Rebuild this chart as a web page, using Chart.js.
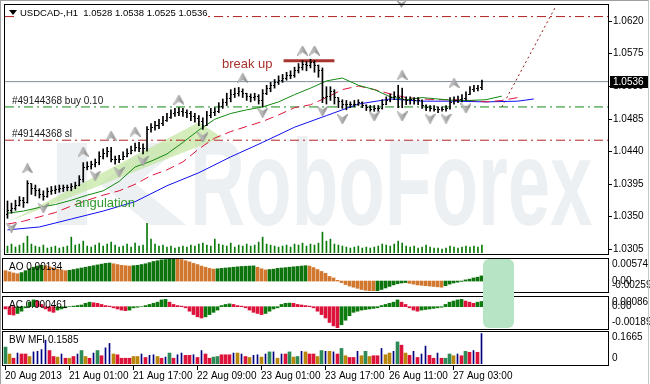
<!DOCTYPE html>
<html>
<head>
<meta charset="utf-8">
<title>USDCAD H1</title>
<script src="https://cdn.jsdelivr.net/npm/chart.js@4.4.1/dist/chart.umd.min.js"></script>
<style>
  html, body { margin: 0; padding: 0; background: #fff; }
  #wrap { position: relative; width: 650px; height: 384px; overflow: hidden; background: #fff; }
  #wrap canvas { position: absolute; left: 0; }
  #frame { position: absolute; left: 0; top: 0; width: 649px; height: 384px; border-left: 1px solid #a0a0a0; border-top: 1px solid #a0a0a0; border-right: 1px solid #c8c8c8; box-sizing: border-box; pointer-events: none; }
  #zone { position: absolute; left: 483px; top: 259px; width: 31px; height: 69px; border-radius: 6px; background: #b7e4c4; }
</style>
</head>
<body>
<div id="wrap">
  <canvas id="main" width="650" height="258" style="top:0"></canvas>
  <canvas id="ao" width="650" height="38" style="top:256px"></canvas>
  <canvas id="ac" width="650" height="38" style="top:293px"></canvas>
  <canvas id="mfi" width="650" height="54" style="top:330px"></canvas>
  <div id="zone"></div>
  <div id="frame"></div>
</div>
<script>
const FONT = '"Liberation Sans", Arial, sans-serif';

// ---- H1 bars, 20 Aug 09:00 .. 27 Aug 04:00 ----
const opens = [1.0352,1.0358,1.0361,1.0365,1.0371,1.0369,1.0395,1.0388,1.0385,1.0380,
  1.0377,1.0384,1.0385,1.0387,1.0388,1.0389,1.0389,1.0391,1.0393,1.0400,
  1.0417,1.0419,1.0421,1.0424,1.0433,1.0437,1.0440,1.0429,1.0428,1.0429,
  1.0433,1.0437,1.0441,1.0445,1.0444,1.0443,1.0470,1.0473,1.0475,1.0478,
  1.0482,1.0486,1.0492,1.0493,1.0495,1.0493,1.0492,1.0488,1.0485,1.0481,
  1.0475,1.0489,1.0493,1.0495,1.0501,1.0507,1.0512,1.0518,1.0520,1.0523,
  1.0519,1.0515,1.0514,1.0515,1.0510,1.0519,1.0526,1.0531,1.0535,1.0538,
  1.0541,1.0544,1.0545,1.0551,1.0555,1.0560,1.0559,1.0563,1.0558,1.0552,
  1.0514,1.0516,1.0522,1.0514,1.0508,1.0505,1.0504,1.0504,1.0505,1.0507,
  1.0503,1.0500,1.0497,1.0499,1.0499,1.0505,1.0510,1.0514,1.0516,1.0514,
  1.0511,1.0510,1.0511,1.0510,1.0510,1.0503,1.0500,1.0499,1.0497,1.0497,
  1.0497,1.0499,1.0507,1.0510,1.0511,1.0512,1.0518,1.0525,1.0527,1.0528];
const highs = [1.0371,1.0368,1.0372,1.0377,1.0376,1.0399,1.0395,1.0393,1.0388,1.0385,
  1.0389,1.0391,1.0392,1.0393,1.0393,1.0393,1.0395,1.0397,1.0406,1.0424,
  1.0425,1.0426,1.0429,1.0439,1.0443,1.0445,1.0445,1.0433,1.0434,1.0439,
  1.0443,1.0447,1.0451,1.0452,1.0450,1.0474,1.0478,1.0481,1.0484,1.0488,
  1.0492,1.0497,1.0499,1.0500,1.0499,1.0497,1.0495,1.0492,1.0489,1.0486,
  1.0495,1.0499,1.0500,1.0507,1.0512,1.0520,1.0525,1.0527,1.0528,1.0526,
  1.0520,1.0519,1.0520,1.0518,1.0525,1.0531,1.0535,1.0539,1.0544,1.0546,
  1.0549,1.0551,1.0556,1.0561,1.0565,1.0564,1.0567,1.0565,1.0559,1.0555,
  1.0529,1.0529,1.0525,1.0514,1.0511,1.0510,1.0508,1.0510,1.0511,1.0508,
  1.0504,1.0503,1.0503,1.0503,1.0511,1.0515,1.0519,1.0522,1.0531,1.0527,
  1.0515,1.0515,1.0514,1.0514,1.0511,1.0504,1.0503,1.0503,1.0501,1.0501,
  1.0503,1.0514,1.0515,1.0516,1.0518,1.0522,1.0529,1.0531,1.0531,1.0538];
const lows = [1.0347,1.0354,1.0358,1.0364,1.0362,1.0368,1.0380,1.0378,1.0375,1.0372,
  1.0376,1.0380,1.0381,1.0383,1.0384,1.0385,1.0385,1.0388,1.0392,1.0397,
  1.0414,1.0415,1.0418,1.0421,1.0429,1.0432,1.0425,1.0422,1.0424,1.0428,
  1.0432,1.0436,1.0440,1.0439,1.0436,1.0440,1.0466,1.0469,1.0471,1.0475,
  1.0481,1.0485,1.0488,1.0489,1.0488,1.0486,1.0482,1.0480,1.0475,1.0470,
  1.0475,1.0486,1.0489,1.0493,1.0499,1.0503,1.0508,1.0514,1.0516,1.0514,
  1.0510,1.0508,1.0510,1.0505,1.0501,1.0518,1.0522,1.0527,1.0532,1.0535,
  1.0538,1.0540,1.0542,1.0548,1.0552,1.0551,1.0555,1.0549,1.0542,1.0507,
  1.0505,1.0510,1.0505,1.0500,1.0499,1.0497,1.0500,1.0501,1.0503,1.0500,
  1.0496,1.0495,1.0495,1.0495,1.0498,1.0504,1.0508,1.0511,1.0500,1.0500,
  1.0504,1.0505,1.0505,1.0504,1.0499,1.0496,1.0495,1.0495,1.0493,1.0495,
  1.0495,1.0498,1.0505,1.0507,1.0508,1.0510,1.0518,1.0522,1.0523,1.0525];
const closes = [1.0358,1.0361,1.0365,1.0371,1.0369,1.0395,1.0388,1.0385,1.0380,1.0377,
  1.0384,1.0385,1.0387,1.0388,1.0389,1.0389,1.0391,1.0393,1.0400,1.0417,
  1.0419,1.0421,1.0424,1.0433,1.0437,1.0440,1.0429,1.0428,1.0429,1.0433,
  1.0437,1.0441,1.0445,1.0444,1.0443,1.0470,1.0473,1.0475,1.0478,1.0482,
  1.0486,1.0492,1.0493,1.0495,1.0493,1.0492,1.0488,1.0485,1.0481,1.0475,
  1.0489,1.0493,1.0495,1.0501,1.0507,1.0512,1.0518,1.0520,1.0523,1.0519,
  1.0515,1.0514,1.0515,1.0510,1.0519,1.0526,1.0531,1.0535,1.0538,1.0541,
  1.0544,1.0545,1.0551,1.0555,1.0560,1.0559,1.0563,1.0558,1.0552,1.0514,
  1.0516,1.0522,1.0514,1.0508,1.0505,1.0504,1.0504,1.0505,1.0507,1.0503,
  1.0500,1.0497,1.0499,1.0499,1.0505,1.0510,1.0514,1.0516,1.0514,1.0511,
  1.0510,1.0511,1.0510,1.0510,1.0503,1.0500,1.0499,1.0497,1.0497,1.0497,
  1.0499,1.0507,1.0510,1.0511,1.0512,1.0518,1.0525,1.0527,1.0527,1.0536];
const volumes = [700,900,600,800,1000,1700,900,700,600,800,
  500,600,700,500,600,700,1600,800,900,1200,
  700,600,800,1000,700,900,1100,800,600,700,
  900,600,1000,700,800,3000,1400,900,700,800,
  600,700,500,600,700,600,800,700,900,1000,
  800,700,1400,900,800,700,1000,600,800,700,
  900,700,800,1100,1600,900,800,700,600,700,
  800,600,900,800,1000,700,900,800,1000,2100,
  1200,1400,900,800,700,600,500,600,700,500,
  600,500,600,700,900,800,700,900,1200,1000,
  700,600,700,500,600,800,600,500,500,400,
  500,700,600,500,600,700,600,700,600,800];

// ---- moving-average lines (shifted forward), sampled ----
const jawBars = [0,8,16,24,32,40,48,56,64,72,80,88,96,104,112,120,128,132];
const jawValues = [1.0331,1.0335,1.0346,1.0357,1.0370,1.0392,1.0410,1.0432,1.0452,1.0473,
  1.0489,1.0505,1.0512,1.0509,1.0509,1.0508,1.0509,1.0512];
const teethBars = [0,4,8,12,16,20,24,28,32,36,40,44,48,52,56,60,64,68,72,76,80,84,88,92,96,100,104,108,112,116,120,124,128];
const teethValues = [1.0339,1.0343,1.0349,1.0355,1.0364,1.0372,1.0379,1.0385,1.0394,1.0406,
  1.0414,1.0425,1.0443,1.0458,1.0467,1.0474,1.0481,1.0490,1.0500,1.0504,
  1.0514,1.0525,1.0530,1.0525,1.0519,1.0514,1.0512,1.0511,1.0511,1.0510,
  1.0508,1.0510,1.0514];
const lipsBars = [0,4,8,12,16,20,24,28,32,36,40,44,48,52,56,60,64,68,72,76,80,84,88,92,96,100,104,108,112,116,120,124];
const lipsValues = [1.0354,1.0357,1.0362,1.0366,1.0372,1.0379,1.0385,1.0398,1.0418,1.0426,
  1.0436,1.0452,1.0469,1.0484,1.0492,1.0497,1.0501,1.0508,1.0518,1.0527,
  1.0537,1.0541,1.0531,1.0525,1.0515,1.0511,1.0514,1.0512,1.0510,1.0510,
  1.0511,1.0516];

// ---- fractals ----
const upFractalBars = [5,19,26,32,43,59,74,77,99,112];
const upFractalPrices = [1.0416,1.0439,1.0461,1.0467,1.0511,1.0541,1.0579,1.0579,1.0545,1.0534];
const downFractalBars = [1,9,22,28,34,49,64,79,84,92,99,106,110,115];
const downFractalPrices = [1.0334,1.0361,1.0406,1.0411,1.0426,1.0459,1.0493,1.0495,1.0484,1.0488,1.0488,1.0485,1.0485,1.0499];

// ---- objects on the chart ----
const takeProfit = 1.0626, lastPrice = 1.0536, buyPrice = 1.0501, stopLoss = 1.0455;
const breakUpBars = [69.25, 82];
const breakUpPrice = 1.0565;
const projectionBars = [124, 137.5];
const projectionPrices = [1.0501, 1.0640];
const wedgeBars = [0.5, 48, 53.75];
const wedgePrices = [1.0343, 1.0480, 1.0459];

// ---- oscillators ----
const ao = [0.0027,0.0024,0.0021,0.0019,0.0022,0.0027,0.0032,0.0036,0.0039,0.0041,
  0.0040,0.0037,0.0034,0.0031,0.0029,0.0027,0.0028,0.0030,0.0032,0.0034,
  0.0036,0.0038,0.0040,0.0042,0.0044,0.0046,0.0047,0.0045,0.0043,0.0041,
  0.0040,0.0039,0.0040,0.0041,0.0043,0.0045,0.0048,0.0051,0.0053,0.0055,
  0.0056,0.0057,0.00574,0.0057,0.0056,0.0053,0.0050,0.0046,0.0043,0.0039,
  0.0036,0.0033,0.0031,0.0032,0.0033,0.0034,0.0035,0.0036,0.0037,0.0038,
  0.00385,0.0039,0.00395,0.0036,0.0032,0.0029,0.0030,0.0031,0.0033,0.0034,
  0.0035,0.0036,0.0037,0.0038,0.0039,0.0040,0.0039,0.0035,0.0030,0.0025,
  0.0020,0.0012,0.0008,0.0002,-0.0004,-0.0009,-0.0013,-0.0016,-0.0019,-0.0022,
  -0.0024,-0.0025,-0.00259,-0.0025,-0.0022,-0.0018,-0.0014,-0.0010,-0.0007,-0.0005,
  -0.0004,-0.0006,-0.0008,-0.0010,-0.0011,-0.0012,-0.0013,-0.0014,-0.0015,-0.0016,
  -0.0012,-0.0008,-0.0005,-0.0003,-0.0001,0.0003,0.0005,0.0008,0.0010,0.00134];
const ac = [-0.0002,-0.0007,-0.00074,-0.0006,-0.0004,-0.0001,0.0004,0.0006,0.0005,0.0002,
  -0.0002,-0.0004,-0.0005,-0.0003,-0.0002,-0.0001,0.0000,0.00005,0.0001,0.00015,
  0.0003,0.0004,0.00035,0.0003,0.0002,0.0001,0.00005,-0.0001,-0.0002,-0.0003,
  -0.00035,-0.0003,-0.0001,-0.00005,0.0000,0.0001,0.0002,0.0003,0.0004,0.0006,
  0.00065,0.0004,0.0002,0.0001,0.00005,-0.0001,-0.0004,-0.0007,-0.0009,-0.0010,
  -0.0009,-0.0007,-0.0005,-0.0003,0.0001,0.0002,0.00025,0.0002,0.0001,0.00005,
  -0.0001,-0.0003,-0.0005,-0.0006,-0.0007,-0.0006,-0.0004,-0.0002,-0.0001,0.0002,
  0.0003,0.00032,0.0003,0.0002,0.00015,0.0001,0.00005,-0.0001,-0.0004,-0.0007,
  -0.0010,-0.0014,-0.0017,-0.00189,-0.0016,-0.0012,-0.0008,-0.0005,-0.0004,-0.0003,
  -0.00025,-0.0002,-0.00015,-0.0001,0.0001,0.0002,0.0003,0.0004,0.0006,0.0004,
  0.0002,-0.0001,-0.0003,-0.0004,-0.0003,-0.00025,-0.0002,-0.00015,-0.0001,-0.00005,
  0.0002,0.0004,0.0005,0.0006,0.00065,0.0005,0.0004,0.0003,0.0004,0.000461];
const mfi = [0.088,0.052,0.030,0.057,0.052,0.052,0.039,0.063,0.066,0.075,
  0.124,0.070,0.039,0.036,0.052,0.030,0.030,0.039,0.052,0.070,
  0.039,0.030,0.057,0.070,0.043,0.084,0.107,0.052,0.048,0.030,
  0.030,0.030,0.039,0.039,0.052,0.034,0.045,0.048,0.039,0.030,
  0.036,0.057,0.030,0.048,0.057,0.045,0.045,0.048,0.034,0.070,
  0.052,0.030,0.036,0.039,0.048,0.048,0.048,0.057,0.057,0.052,
  0.039,0.034,0.045,0.048,0.036,0.052,0.063,0.063,0.030,0.052,
  0.052,0.063,0.036,0.039,0.066,0.063,0.052,0.052,0.039,0.070,
  0.066,0.066,0.063,0.052,0.081,0.043,0.034,0.034,0.066,0.043,
  0.066,0.039,0.043,0.043,0.081,0.048,0.057,0.066,0.115,0.098,
  0.057,0.045,0.066,0.034,0.052,0.093,0.045,0.030,0.057,0.030,
  0.030,0.052,0.043,0.052,0.043,0.066,0.061,0.070,0.061,0.1585];
// G = green, O = fade, R = squat, B = fake
const mfiZone = ('GORBRROBBB' + 'BRROBRORBG' + 'ORBGRBBORR' + 'RROOBRBBOR' +
  'BGRBBRRBRB' + 'RRGGRRRBOB' + 'ROBBOBGBOB' + 'RGOGBORROG' +
  'BOBRGORRBO' + 'GORRBOOBGR' + 'ORBRBBRRBR' + 'GGOBRGRBRB').split('');

// ---- axes ----
const priceMin = 1.0299, priceMax = 1.0642;
const priceTicks = [1.0620, 1.0575, 1.0530, 1.0485, 1.0440, 1.0395, 1.0350, 1.0305];
const aoRange = [-0.00259, 0.00574];
const acRange = [-0.00189, 0.00086];
const mfiRange = [0, 0.1665];
const timeBars = [0, 16, 32, 48, 64, 80, 96, 112];
const timeLabels = ['20 Aug 2013', '21 Aug 01:00', '21 Aug 17:00', '22 Aug 09:00',
  '23 Aug 01:00', '23 Aug 17:00', '26 Aug 11:00', '27 Aug 03:00'];
const xMin = -0.625, xMax = 150.625;

const bars = closes.map((c, i) => i);
const pts = (xs, ys) => ys.map((v, i) => ({ x: xs[i], y: v }));

function tickImage(left) {
  const c = document.createElement('canvas');
  c.width = 3; c.height = 1;
  const g = c.getContext('2d');
  g.fillStyle = '#000';
  g.fillRect(left ? 0 : 2, 0, 1, 1);
  return c;
}

function arrowImage(up) {
  const c = document.createElement('canvas');
  c.width = 11; c.height = 10;
  const g = c.getContext('2d');
  if (!up) { g.translate(0, 10); g.scale(1, -1); }
  const grad = g.createLinearGradient(0, 0, 11, 0);
  grad.addColorStop(0, '#dcdcdc');
  grad.addColorStop(0.5, '#b0b0b0');
  grad.addColorStop(1, '#7a7a7a');
  g.beginPath();
  g.moveTo(5.5, 0); g.lineTo(11, 10); g.lineTo(5.5, 6.5); g.lineTo(0, 10); g.closePath();
  g.fillStyle = grad; g.fill();
  g.strokeStyle = '#909090'; g.lineWidth = 0.6; g.stroke();
  return c;
}

function border(ctx, a) {
  ctx.strokeStyle = '#000';
  ctx.lineWidth = 1;
  ctx.strokeRect(a.left - 0.5, a.top - 0.5, a.right - a.left + 1, a.bottom - a.top + 2);
}

function baseOptions(yScales, padding) {
  return {
    responsive: false,
    animation: false,
    events: [],
    layout: { padding: padding },
    plugins: { legend: { display: false }, tooltip: { enabled: false } },
    scales: Object.assign({
      x: { type: 'linear', min: xMin, max: xMax, display: false, offset: false }
    }, yScales)
  };
}

// ---- main price window ----
const mainDecor = {
  id: 'mainDecor',
  beforeDatasetsDraw(chart) {
    const { ctx, chartArea: a, scales: { x, y } } = chart;
    ctx.save();
    ctx.beginPath();
    ctx.rect(a.left, a.top, a.right - a.left, a.bottom - a.top);
    ctx.clip();
    // watermark
    ctx.fillStyle = '#edf0f3';
    ctx.fillRect(57, 143, 30, 82);
    ctx.beginPath();
    ctx.moveTo(150, 143); ctx.lineTo(186, 143); ctx.lineTo(136, 184);
    ctx.lineTo(186, 225); ctx.lineTo(150, 225); ctx.lineTo(100, 184); ctx.closePath();
    ctx.fill();
    ctx.save();
    ctx.translate(190, 225);
    ctx.scale(0.62, 1);
    ctx.font = 'bold 123px ' + FONT;
    ctx.fillText('RoboForex', 0, 0);
    ctx.restore();
    // angulation wedge
    ctx.beginPath();
    wedgeBars.forEach((b, i) => {
      const px = x.getPixelForValue(b), py = y.getPixelForValue(wedgePrices[i]);
      if (i) ctx.lineTo(px, py); else ctx.moveTo(px, py);
    });
    ctx.closePath();
    ctx.fillStyle = 'rgba(190,228,150,0.65)';
    ctx.fill();
    ctx.restore();
  },
  afterDatasetsDraw(chart) {
    const { ctx, chartArea: a, scales: { x, y } } = chart;
    ctx.save();
    ctx.font = '10px ' + FONT;
    ctx.textBaseline = 'middle';
    ctx.textAlign = 'left';

    // header
    ctx.fillStyle = '#fff';
    ctx.fillRect(18, 7, 190, 12);
    ctx.fillStyle = '#000';
    ctx.beginPath();
    ctx.moveTo(9, 10); ctx.lineTo(17, 10); ctx.lineTo(13, 15); ctx.closePath(); ctx.fill();
    ctx.font = '9.5px ' + FONT;
    ctx.fillText('USDCAD-,H1  1.0528 1.0538 1.0525 1.0536', 20, 13);
    ctx.font = '10px ' + FONT;

    // order labels
    ctx.fillStyle = '#1a1a1a';
    ctx.fillText('#49144368 buy 0.10', 12, y.getPixelForValue(buyPrice) - 6);
    ctx.fillText('#49144368 sl', 12, y.getPixelForValue(stopLoss) - 6);

    // text notes
    ctx.font = '13px ' + FONT;
    ctx.fillStyle = '#a8322d';
    ctx.textAlign = 'right';
    ctx.fillText('break up', x.getPixelForValue(breakUpBars[0]) - 11, y.getPixelForValue(breakUpPrice) + 4);
    ctx.textAlign = 'left';
    ctx.fillStyle = '#2f9a2f';
    ctx.fillText('angulation', 75, 203);

    // price scale
    ctx.font = '10px ' + FONT;
    ctx.fillStyle = '#000';
    ctx.strokeStyle = '#000';
    ctx.lineWidth = 1;
    priceTicks.forEach(v => {
      const py = Math.round(y.getPixelForValue(v)) + 0.5;
      ctx.beginPath(); ctx.moveTo(a.right + 1, py); ctx.lineTo(a.right + 4, py); ctx.stroke();
      ctx.fillText(v.toFixed(4), a.right + 5, py);
    });
    const lp = Math.round(y.getPixelForValue(lastPrice));
    ctx.fillStyle = '#000';
    ctx.fillRect(a.right + 2, lp - 6, 38, 12);
    ctx.fillStyle = '#fff';
    ctx.fillText(lastPrice.toFixed(4), a.right + 5, lp);

    // chart shift marker
    ctx.fillStyle = '#9a9a9a';
    ctx.beginPath();
    ctx.moveTo(396, 0); ctx.lineTo(401.5, 3); ctx.lineTo(407, 0); ctx.lineTo(401.5, 8); ctx.closePath();
    ctx.fill();

    border(ctx, a);
    ctx.restore();
  }
};

const lvl = (v) => [{ x: xMin, y: v }, { x: xMax, y: v }];
const flat = { pointRadius: 0, borderWidth: 1, fill: false, tension: 0 };

new Chart(document.getElementById('main'), {
  type: 'bar',
  data: {
    datasets: [
      { type: 'line', data: pts(upFractalBars, upFractalPrices), showLine: false,
        pointStyle: arrowImage(true), pointRadius: 2, order: 0 },
      { type: 'line', data: pts(downFractalBars, downFractalPrices), showLine: false,
        pointStyle: arrowImage(false), pointRadius: 2, order: 0 },
      { type: 'line', data: pts(bars, opens), showLine: false,
        pointStyle: tickImage(true), pointRadius: 1, order: 1 },
      { type: 'line', data: pts(bars, closes), showLine: false,
        pointStyle: tickImage(false), pointRadius: 1, order: 1 },
      { type: 'bar', data: bars.map(i => ({ x: i, y: [lows[i], highs[i]] })),
        backgroundColor: '#000', barThickness: 1, grouped: false, order: 1 },
      Object.assign({ type: 'line', data: pts(breakUpBars, [breakUpPrice, breakUpPrice]),
        borderColor: '#a8322d' }, flat, { borderWidth: 3, order: 2 }),
      Object.assign({ type: 'line', data: pts(lipsBars, lipsValues), borderColor: '#138a13', order: 2 }, flat),
      Object.assign({ type: 'line', data: pts(teethBars, teethValues), borderColor: '#dc143c',
        borderDash: [9, 5], order: 2 }, flat),
      Object.assign({ type: 'line', data: pts(jawBars, jawValues), borderColor: '#1010f0', order: 2 }, flat),
      Object.assign({ type: 'line', data: lvl(lastPrice), borderColor: '#7f8c99', order: 3 }, flat),
      Object.assign({ type: 'line', data: lvl(buyPrice), borderColor: '#138a13',
        borderDash: [9, 4, 2, 4], order: 3 }, flat),
      Object.assign({ type: 'line', data: lvl(stopLoss), borderColor: '#b22222',
        borderDash: [9, 4, 2, 4], order: 3 }, flat),
      Object.assign({ type: 'line', data: lvl(takeProfit), borderColor: '#b22222',
        borderDash: [9, 4, 2, 4], order: 3 }, flat),
      Object.assign({ type: 'line', data: pts(projectionBars, projectionPrices), borderColor: '#8b1a1a',
        borderDash: [2, 3], order: 3 }, flat),
      { type: 'bar', data: pts(bars, volumes), yAxisID: 'vol', backgroundColor: '#0b7a0b',
        barThickness: 1, grouped: false, order: 5 }
    ]
  },
  options: baseOptions({
    y: { min: priceMin, max: priceMax, display: false },
    vol: { min: 0, max: 25000, display: false }
  }, { left: 3, right: 42, top: 4, bottom: 3 }),
  plugins: [mainDecor]
});

// ---- indicator windows ----
function panelDecor(title, labels, withTime) {
  return {
    id: 'panelDecor',
    afterDatasetsDraw(chart) {
      const { ctx, chartArea: a, scales: { x, y } } = chart;
      ctx.save();
      ctx.font = '10px ' + FONT;
      ctx.fillStyle = '#000';
      ctx.textBaseline = 'middle';
      ctx.textAlign = 'left';
      ctx.fillText(title, 9, a.top + 8);
      labels.forEach(v => {
        let py = y.getPixelForValue(v);
        py = Math.max(a.top + 5, Math.min(a.bottom - 6, py));
        const txt = v === 0 ? (withTime ? '0' : '0.00') : String(v);
        ctx.fillText(txt, a.right + 4, py);
      });
      border(ctx, a);
      if (withTime) {
        ctx.strokeStyle = '#000';
        timeBars.forEach((b, i) => {
          const px = Math.floor(x.getPixelForValue(b)) + 0.5;
          ctx.beginPath(); ctx.moveTo(px, a.bottom + 2); ctx.lineTo(px, a.bottom + 6); ctx.stroke();
          ctx.fillText(timeLabels[i], px - 0.5, a.bottom + 12);
        });
      }
      ctx.restore();
    }
  };
}

const AO_UP = '#0d730d', AO_DN = '#d2772e';
new Chart(document.getElementById('ao'), {
  type: 'bar',
  data: { datasets: [{
    data: pts(bars, ao),
    backgroundColor: ao.map((v, i) => (i > 0 && v > ao[i - 1]) ? AO_UP : AO_DN),
    barThickness: 3
  }] },
  options: baseOptions({ y: { min: aoRange[0], max: aoRange[1], display: false } },
    { left: 3, right: 42, top: 3, bottom: 3 }),
  plugins: [panelDecor('AO 0.00134', [0.00574, 0, -0.00259], false)]
});

const AC_UP = '#0d7a0d', AC_DN = '#dc143c';
new Chart(document.getElementById('ac'), {
  type: 'bar',
  data: { datasets: [{
    data: pts(bars, ac),
    backgroundColor: ac.map((v, i) => (i > 0 && v > ac[i - 1]) ? AC_UP : AC_DN),
    barThickness: 3
  }] },
  options: baseOptions({ y: { min: acRange[0], max: acRange[1], display: false } },
    { left: 3, right: 42, top: 4, bottom: 3 }),
  plugins: [panelDecor('AC 0.000461', [0.00086, 0, -0.00189], false)]
});

const zoneColor = { G: '#2e8b57', O: '#b8860b', R: '#dc143c', B: '#000080' };
new Chart(document.getElementById('mfi'), {
  type: 'bar',
  data: { datasets: [
    { data: bars.map(i => ({ x: i, y: mfiZone[i] === 'B' ? null : mfi[i] })),
      backgroundColor: mfiZone.map(z => zoneColor[z]), barThickness: 3, grouped: false },
    { data: bars.map(i => ({ x: i, y: mfiZone[i] === 'B' ? mfi[i] : null })),
      backgroundColor: zoneColor.B, barThickness: 1, grouped: false }
  ] },
  options: baseOptions({ y: { min: mfiRange[0], max: mfiRange[1], display: false } },
    { left: 3, right: 42, top: 2, bottom: 20 }),
  plugins: [panelDecor('BW MFI 0.1585', [0.1665, 0], true)]
});
</script>
</body>
</html>
